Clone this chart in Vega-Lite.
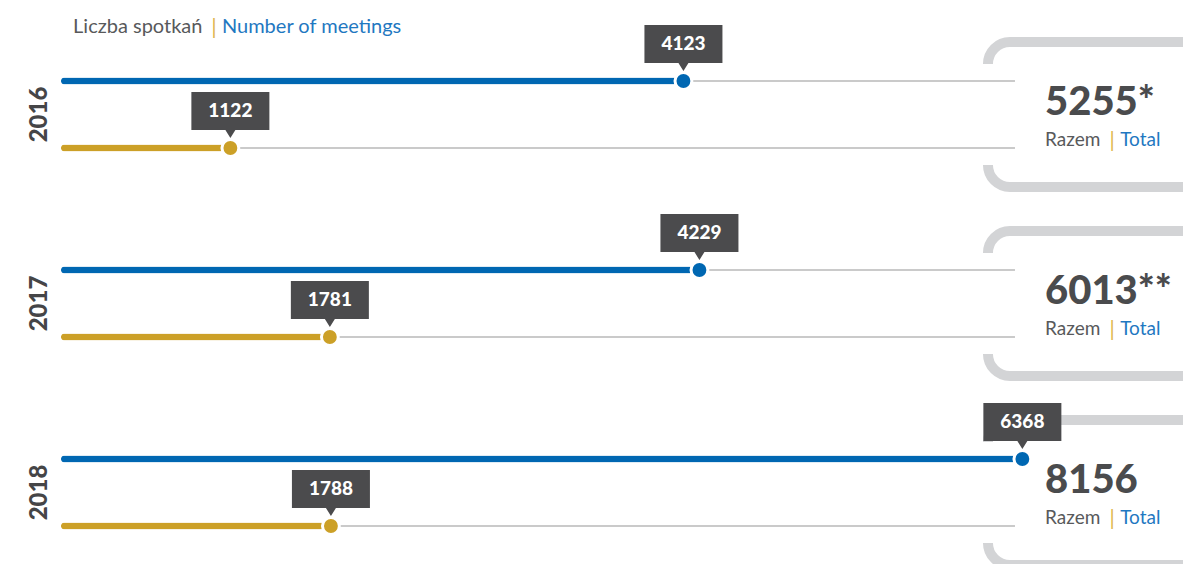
{
  "$schema": "https://vega.github.io/schema/vega-lite/v6.json",
  "width": 1183,
  "height": 564,
  "autosize": {"type": "none"},
  "padding": 0,
  "background": "white",
  "config": {"view": {"stroke": null}, "font": "Lato", "scale": {"continuousPadding": 0}},
  "datasets": {
    "meetings": [
      {"year": 2016, "group": "1", "value": 4123},
      {"year": 2016, "group": "2", "value": 1122},
      {"year": 2017, "group": "1", "value": 4229},
      {"year": 2017, "group": "2", "value": 1781},
      {"year": 2018, "group": "1", "value": 6368},
      {"year": 2018, "group": "2", "value": 1788}
    ],
    "totals": [
      {"year": 2016, "total": "5255*"},
      {"year": 2017, "total": "6013**"},
      {"year": 2018, "total": "8156"}
    ]
  },
  "layer": [
    {
      "data": {"name": "totals"},
      "mark": {"type": "point", "shape": "M-0.9333,-0.4208A0.1833,0.1833 0 0 1 -0.75,-0.6042H0.8333V0.6042H-0.75A0.1833,0.1833 0 0 1 -0.9333,0.4208", "filled": false, "opacity": 1, "size": 57600, "stroke": "#d3d4d6", "strokeWidth": 10},
      "encoding": {
        "x": {"datum": 6882, "type": "quantitative", "scale": {"domain": [-404, 7432], "nice": false, "zero": false, "padding": 0}, "axis": null},
        "y": {"field": "year", "type": "quantitative", "scale": {"domain": [2015.39418, 2018.37831], "nice": false, "zero": false, "reverse": true, "padding": 0}, "axis": null}
      }
    },
    {
      "data": {"values": [{"part": "Liczba spotkań"}]},
      "mark": {"type": "text", "align": "left", "baseline": "alphabetic", "fontSize": 20, "color": "#58595b"},
      "encoding": {
        "x": {"datum": 80, "type": "quantitative"},
        "y": {"datum": 2015.5688, "type": "quantitative"},
        "text": {"field": "part"}
      }
    },
    {
      "data": {"values": [{"part": "|"}]},
      "mark": {"type": "text", "align": "center", "baseline": "alphabetic", "fontSize": 22, "color": "#e0b64c", "dy": 1},
      "encoding": {
        "x": {"datum": 1013, "type": "quantitative"},
        "y": {"datum": 2015.5688, "type": "quantitative"},
        "text": {"field": "part"}
      }
    },
    {
      "data": {"values": [{"part": "Number of meetings"}]},
      "mark": {"type": "text", "align": "left", "baseline": "alphabetic", "fontSize": 20, "color": "#1f78c1"},
      "encoding": {
        "x": {"datum": 1066, "type": "quantitative"},
        "y": {"datum": 2015.5688, "type": "quantitative"},
        "text": {"field": "part"}
      }
    },
    {
      "data": {"name": "totals"},
      "mark": {"type": "text", "angle": 270, "align": "center", "baseline": "middle", "fontSize": 24, "fontWeight": 900, "color": "#454547"},
      "encoding": {
        "x": {"datum": -140, "type": "quantitative"},
        "y": {"field": "year", "type": "quantitative"},
        "text": {"field": "year", "type": "nominal"}
      }
    },
    {
      "data": {"name": "meetings"},
      "transform": [{"filter": "datum.group == '1'"}],
      "layer": [
        {
          "mark": {"type": "bar", "orient": "horizontal", "color": "#959595", "height": 1.2, "yOffset": -33.5},
          "encoding": {
            "x": {"datum": 6319, "type": "quantitative"},
            "y": {"field": "year", "type": "quantitative"}
          }
        },
        {
          "mark": {"type": "bar", "orient": "horizontal", "color": "#0067b2", "height": 7, "cornerRadius": 3.5, "yOffset": -33.5},
          "encoding": {
            "x": {"field": "value", "type": "quantitative"},
            "y": {"field": "year", "type": "quantitative"}
          }
        },
        {
          "mark": {"type": "point", "shape": "circle", "filled": true, "opacity": 1, "size": 284, "fill": "#0067b2", "stroke": "white", "strokeWidth": 3, "yOffset": -33.5},
          "encoding": {
            "x": {"field": "value", "type": "quantitative"},
            "y": {"field": "year", "type": "quantitative"}
          }
        },
        {
          "mark": {"type": "point", "shape": "M-0.65,-0.9333H0.65V-0.3H0.0833L0,-0.1667L-0.0833,-0.3H-0.65Z", "filled": true, "opacity": 1, "size": 14400, "fill": "#4b4b4d", "strokeWidth": 0, "yOffset": -33.5},
          "encoding": {
            "x": {"field": "value", "type": "quantitative"},
            "y": {"field": "year", "type": "quantitative"}
          }
        },
        {
          "mark": {"type": "text", "align": "center", "baseline": "middle", "fontSize": 19, "fontWeight": 900, "color": "white", "yOffset": -33.5, "dy": -37},
          "encoding": {
            "x": {"field": "value", "type": "quantitative"},
            "y": {"field": "year", "type": "quantitative"},
            "text": {"field": "value", "type": "quantitative", "format": "d"}
          }
        }
      ]
    },
    {
      "data": {"name": "meetings"},
      "transform": [{"filter": "datum.group == '2'"}],
      "layer": [
        {
          "mark": {"type": "bar", "orient": "horizontal", "color": "#959595", "height": 1.2, "yOffset": 33.5},
          "encoding": {
            "x": {"datum": 6319, "type": "quantitative"},
            "y": {"field": "year", "type": "quantitative"}
          }
        },
        {
          "mark": {"type": "bar", "orient": "horizontal", "color": "#cca027", "height": 7, "cornerRadius": 3.5, "yOffset": 33.5},
          "encoding": {
            "x": {"field": "value", "type": "quantitative"},
            "y": {"field": "year", "type": "quantitative"}
          }
        },
        {
          "mark": {"type": "point", "shape": "circle", "filled": true, "opacity": 1, "size": 284, "fill": "#cca027", "stroke": "white", "strokeWidth": 3, "yOffset": 33.5},
          "encoding": {
            "x": {"field": "value", "type": "quantitative"},
            "y": {"field": "year", "type": "quantitative"}
          }
        },
        {
          "mark": {"type": "point", "shape": "M-0.65,-0.9333H0.65V-0.3H0.0833L0,-0.1667L-0.0833,-0.3H-0.65Z", "filled": true, "opacity": 1, "size": 14400, "fill": "#4b4b4d", "strokeWidth": 0, "yOffset": 33.5},
          "encoding": {
            "x": {"field": "value", "type": "quantitative"},
            "y": {"field": "year", "type": "quantitative"}
          }
        },
        {
          "mark": {"type": "text", "align": "center", "baseline": "middle", "fontSize": 19, "fontWeight": 900, "color": "white", "yOffset": 33.5, "dy": -37},
          "encoding": {
            "x": {"field": "value", "type": "quantitative"},
            "y": {"field": "year", "type": "quantitative"},
            "text": {"field": "value", "type": "quantitative", "format": "d"}
          }
        }
      ]
    },
    {
      "data": {"name": "totals"},
      "mark": {"type": "text", "align": "left", "baseline": "alphabetic", "fontSize": 40, "fontWeight": 900, "color": "#4a4b4d", "dy": 1},
      "encoding": {
        "x": {"datum": 6518, "type": "quantitative"},
        "y": {"field": "year", "type": "quantitative"},
        "text": {"field": "total"}
      }
    },
    {
      "data": {"name": "totals"},
      "mark": {"type": "text", "align": "left", "baseline": "alphabetic", "fontSize": 19, "color": "#58595b", "dy": 32, "text": "Razem"},
      "encoding": {
        "x": {"datum": 6518, "type": "quantitative"},
        "y": {"field": "year", "type": "quantitative"}
      }
    },
    {
      "data": {"name": "totals"},
      "mark": {"type": "text", "align": "center", "baseline": "alphabetic", "fontSize": 21, "color": "#e0b64c", "dy": 33, "text": "|"},
      "encoding": {
        "x": {"datum": 6962, "type": "quantitative"},
        "y": {"field": "year", "type": "quantitative"}
      }
    },
    {
      "data": {"name": "totals"},
      "mark": {"type": "text", "align": "left", "baseline": "alphabetic", "fontSize": 19, "color": "#1f78c1", "dy": 32, "text": "Total"},
      "encoding": {
        "x": {"datum": 7016, "type": "quantitative"},
        "y": {"field": "year", "type": "quantitative"}
      }
    }
  ]
}
